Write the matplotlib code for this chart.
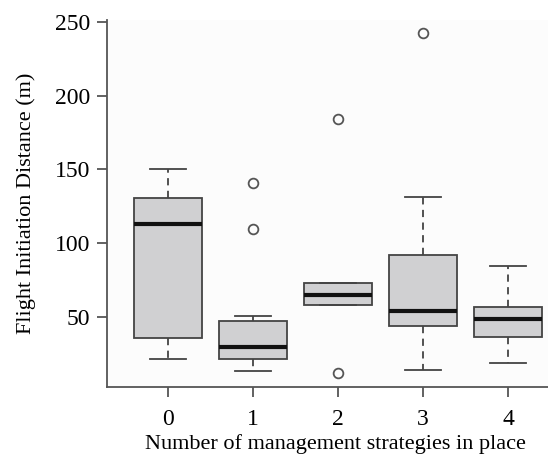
import matplotlib.pyplot as plt

plt.rcParams['font.family'] = ['Liberation Serif', 'DejaVu Serif']

# number of strategies
groups = ['0', '1', '2', '3', '4']
whislo = [21.5, 13.5, 58.5, 14.4, 18.9]
q1 = [36.0, 21.8, 58.5, 44.1, 36.6]
med = [113.4, 29.6, 65.0, 54.0, 49.1]
q3 = [131.0, 47.3, 73.3, 92.2, 57.2]
whishi = [150.2, 50.7, 73.3, 131.4, 85.0]
outliers = [[], [140.8, 109.8], [184.0, 12.1], [242.0], []]

stats = []
for i in range(len(groups)):
    stats.append({'whislo': whislo[i], 'q1': q1[i], 'med': med[i], 'q3': q3[i],
                  'whishi': whishi[i], 'fliers': outliers[i], 'label': groups[i]})

fig = plt.figure(figsize=(5.48, 4.59), dpi=100)
ax = fig.add_axes([0.195, 0.157, 0.805, 0.799])

edge = '#444444'
ax.bxp(stats, positions=range(1, 6), widths=0.8, patch_artist=True,
       boxprops=dict(facecolor='#d0d0d2', edgecolor=edge, linewidth=1.3),
       medianprops=dict(color='#111111', linewidth=3.0, solid_capstyle='butt'),
       whiskerprops=dict(color=edge, linewidth=1.3, linestyle=(0, (4, 3))),
       capprops=dict(color=edge, linewidth=1.3),
       capwidths=0.42,
       flierprops=dict(marker='o', markerfacecolor='none', markeredgecolor='#555555',
                       markersize=7, markeredgewidth=1.3))

ax.set_xlim(0.28, 5.47)
ax.set_ylim(2.9, 251)
ax.set_yticks([50, 100, 150, 200, 250])
ax.set_xticks(range(1, 6))
ax.set_xticklabels(groups)

ax.spines['top'].set_visible(False)
ax.spines['right'].set_visible(False)
for s in ['left', 'bottom']:
    ax.spines[s].set_color('#555555')
    ax.spines[s].set_linewidth(1.3)
ax.tick_params(axis='both', direction='out', length=7, width=1.3, color='#555555',
               labelsize=17)
ax.tick_params(axis='x', pad=9)
ax.tick_params(axis='y', pad=5)
ax.set_facecolor('#fcfcfc')

ax.set_ylabel('Flight Initiation Distance (m)', fontsize=16, va='center')
ax.set_xlabel('Number of management strategies in place', fontsize=16, va='center')
ax.yaxis.set_label_coords(-0.184, 0.5)
ax.xaxis.set_label_coords(0.519, -0.156)

fig.savefig('out.png', dpi=100)
